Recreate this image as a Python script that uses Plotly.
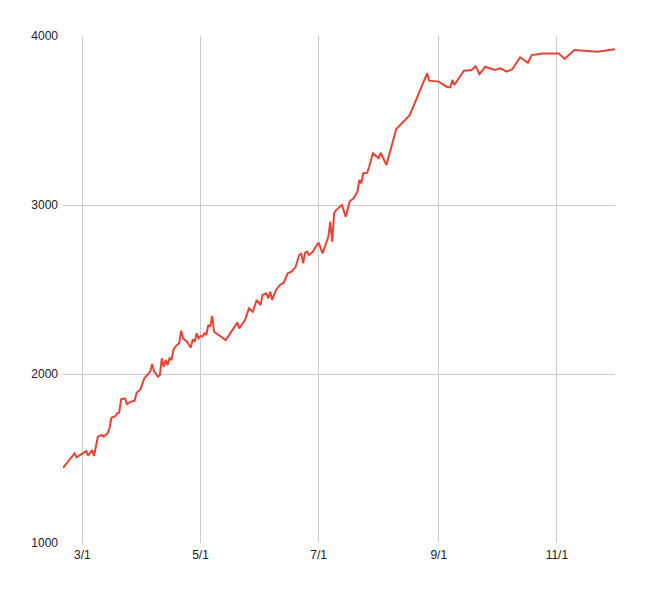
import plotly.graph_objects as go

dates = [
    "2021-02-19", "2021-02-25", "2021-02-26", "2021-03-02", "2021-03-03", "2021-03-04",
    "2021-03-06", "2021-03-07", "2021-03-09", "2021-03-11", "2021-03-12", "2021-03-14",
    "2021-03-15", "2021-03-16", "2021-03-18", "2021-03-19", "2021-03-20", "2021-03-21",
    "2021-03-23", "2021-03-24", "2021-03-26", "2021-03-28", "2021-03-29", "2021-03-31",
    "2021-04-02", "2021-04-05", "2021-04-06", "2021-04-07", "2021-04-09", "2021-04-10",
    "2021-04-11", "2021-04-12", "2021-04-13", "2021-04-14", "2021-04-15", "2021-04-16",
    "2021-04-17", "2021-04-18", "2021-04-20", "2021-04-21", "2021-04-22", "2021-04-24",
    "2021-04-26", "2021-04-27", "2021-04-28", "2021-04-29", "2021-04-30", "2021-05-01",
    "2021-05-02", "2021-05-03", "2021-05-04", "2021-05-05", "2021-05-06", "2021-05-07",
    "2021-05-08", "2021-05-14", "2021-05-20", "2021-05-21", "2021-05-24", "2021-05-26",
    "2021-05-28", "2021-05-30", "2021-06-01", "2021-06-02", "2021-06-04", "2021-06-05",
    "2021-06-06", "2021-06-07", "2021-06-09", "2021-06-11", "2021-06-13", "2021-06-15",
    "2021-06-17", "2021-06-19", "2021-06-21", "2021-06-22", "2021-06-23", "2021-06-24",
    "2021-06-25", "2021-06-26", "2021-06-28", "2021-06-29", "2021-07-01", "2021-07-03",
    "2021-07-05", "2021-07-06", "2021-07-07", "2021-07-08", "2021-07-09", "2021-07-10",
    "2021-07-13", "2021-07-15", "2021-07-17", "2021-07-19", "2021-07-21", "2021-07-22",
    "2021-07-23", "2021-07-24", "2021-07-26", "2021-07-27", "2021-07-29", "2021-08-01",
    "2021-08-02", "2021-08-05", "2021-08-10", "2021-08-17", "2021-08-26", "2021-08-27",
    "2021-09-01", "2021-09-05", "2021-09-07", "2021-09-08", "2021-09-09", "2021-09-14",
    "2021-09-18", "2021-09-20", "2021-09-22", "2021-09-25", "2021-09-30", "2021-10-03",
    "2021-10-06", "2021-10-09", "2021-10-13", "2021-10-17", "2021-10-19", "2021-10-25",
    "2021-11-02", "2021-11-05", "2021-11-10", "2021-11-22", "2021-12-01",
]

values = [
    1444, 1531, 1507, 1534, 1544, 1517,
    1550, 1515, 1629, 1639, 1629, 1649,
    1679, 1741, 1751, 1767, 1771, 1850,
    1856, 1822, 1836, 1842, 1889, 1909,
    1975, 2014, 2059, 2018, 1984, 1994,
    2093, 2043, 2083, 2053, 2093, 2083,
    2142, 2162, 2182, 2256, 2211, 2191,
    2156, 2205, 2191, 2241, 2211, 2225,
    2221, 2241, 2231, 2290, 2280, 2343,
    2250, 2201, 2304, 2270, 2319, 2389,
    2369, 2438, 2408, 2467, 2477, 2448,
    2487, 2438, 2497, 2527, 2540, 2596,
    2605, 2631, 2704, 2714, 2655, 2718,
    2724, 2704, 2724, 2744, 2777, 2714,
    2783, 2812, 2901, 2783, 2951, 2970,
    3000, 2930, 3020, 3040, 3079, 3148,
    3128, 3188, 3191, 3223, 3306, 3276,
    3309, 3237, 3448, 3532, 3779, 3736,
    3730, 3700, 3696, 3740, 3710, 3795,
    3799, 3822, 3775, 3818, 3799, 3809,
    3789, 3803, 3874, 3842, 3887, 3897,
    3897, 3864, 3917, 3907, 3921,
]

x_range = ["2021-02-19", "2021-12-01"]
y_ticks = [1000, 2000, 3000, 4000]

fig = go.Figure()
fig.add_trace(go.Scatter(
    x=dates, y=values, mode="lines",
    line=dict(color="#ea4335", width=2),
    showlegend=False,
))

fig.update_xaxes(
    range=x_range, tick0="2021-03-01", dtick="M2", tickformat="%-m/%-d",
    showgrid=True, gridcolor="#cccccc", gridwidth=1, zeroline=False,
    showline=False, ticks="", ticklabelstandoff=3,
    tickfont=dict(size=12, color="#222222"),
)
fig.update_yaxes(
    range=[1000, 4000], tickvals=y_ticks, tickformat="d",
    showgrid=True, gridcolor="#cccccc", gridwidth=1, zeroline=False,
    showline=False, ticks="", ticklabelstandoff=4,
    tickfont=dict(size=12, color="#222222"),
)
fig.update_layout(
    width=645, height=593,
    margin=dict(l=63, r=30, t=36, b=50),
    paper_bgcolor="white", plot_bgcolor="white",
    font=dict(family="Liberation Sans, Arial, sans-serif"),
)

# drop the browser's default body margin so the chart sits at 0,0
fig.write_html("out.html", config={"displayModeBar": False},
               post_script="document.body.style.margin='0';")
